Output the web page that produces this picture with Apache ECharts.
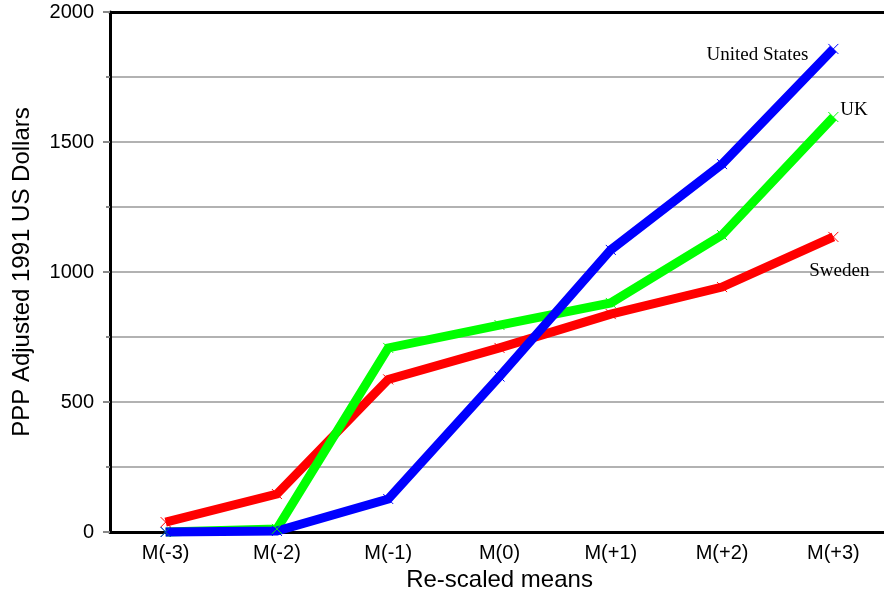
<!DOCTYPE html>
<html>
<head>
<meta charset="utf-8">
<script src="https://cdn.jsdelivr.net/npm/echarts@6/dist/echarts.min.js"></script>
<style>html,body{margin:0;padding:0;background:#fff}#c{width:884px;height:596px}</style>
</head>
<body>
<div id="c"></div>
<script>
var categories = ['M(-3)', 'M(-2)', 'M(-1)', 'M(0)', 'M(+1)', 'M(+2)', 'M(+3)'];
var sweden = [38, 146, 587, 708, 838, 942, 1135];
var uk = [0, 12, 708, 796, 881, 1142, 1596];
var us = [0, 4, 127, 598, 1085, 1415, 1858];
var yTicks = [0, 500, 1000, 1500, 2000];

var chart = echarts.init(document.getElementById('c'));
var sans = 'Liberation Sans';
var serif = 'Liberation Serif';

function mk(name, values, color, lab) {
  var data = values.map(function (v, i) {
    if (i === values.length - 1) {
      return { value: v, label: Object.assign({ show: true, position: 'inside', fontFamily: serif, fontSize: 19, color: '#000', formatter: name }, lab) };
    }
    return v;
  });
  return {
    name: name, type: 'line', data: data,
    symbol: 'path://M0,0L1,1M1,0L0,1', symbolSize: 10, showSymbol: true,
    itemStyle: { color: 'rgba(0,0,0,0)', borderColor: color, borderWidth: 1 },
    lineStyle: { color: color, width: 9, cap: 'butt', join: 'miter' },
    emphasis: { disabled: true },
    clip: false
  };
}

chart.setOption({
  animation: false,
  grid: { left: 110, top: 12, width: 779, height: 520, containLabel: false, outerBoundsMode: 'none' },
  xAxis: [{
    type: 'category', data: categories, boundaryGap: true,
    axisLine: { lineStyle: { color: '#000', width: 3 } },
    axisTick: { alignWithLabel: true, length: 9, lineStyle: { color: '#888', width: 2 } },
    axisLabel: { color: '#000', fontFamily: sans, fontSize: 20, margin: 11 },
    name: 'Re-scaled means', nameLocation: 'middle', nameGap: 34,
    nameTextStyle: { color: '#000', fontFamily: sans, fontSize: 24 }
  }, {
    type: 'category', data: categories, position: 'top',
    axisLine: { lineStyle: { color: '#000', width: 3 } },
    axisTick: { show: false }, axisLabel: { show: false }
  }],
  yAxis: {
    type: 'value', min: yTicks[0], max: yTicks[yTicks.length - 1], interval: 500,
    axisLine: { show: true, lineStyle: { color: '#000', width: 3 } },
    axisTick: { show: true, length: 7, lineStyle: { color: '#888', width: 2 } },
    minorTick: { show: true, splitNumber: 2, length: 4, lineStyle: { color: '#888', width: 2 } },
    splitLine: { lineStyle: { color: '#999', width: 1.5 } },
    minorSplitLine: { show: true, lineStyle: { color: '#999', width: 1.5 } },
    axisLabel: { color: '#000', fontFamily: sans, fontSize: 20, margin: 16, formatter: function (v) { return String(v); } },
    name: 'PPP Adjusted 1991 US Dollars', nameLocation: 'middle', nameGap: 76,
    nameTextStyle: { color: '#000', fontFamily: sans, fontSize: 24 }
  },
  series: [
    mk('Sweden', sweden, '#ff0000', { align: 'center', verticalAlign: 'middle', offset: [6, 34] }),
    mk('UK', uk, '#00ff00', { align: 'left', verticalAlign: 'middle', offset: [7, -7] }),
    mk('United States', us, '#0000ff', { align: 'right', verticalAlign: 'middle', offset: [-25, 6] })
  ]
});
</script>
</body>
</html>
